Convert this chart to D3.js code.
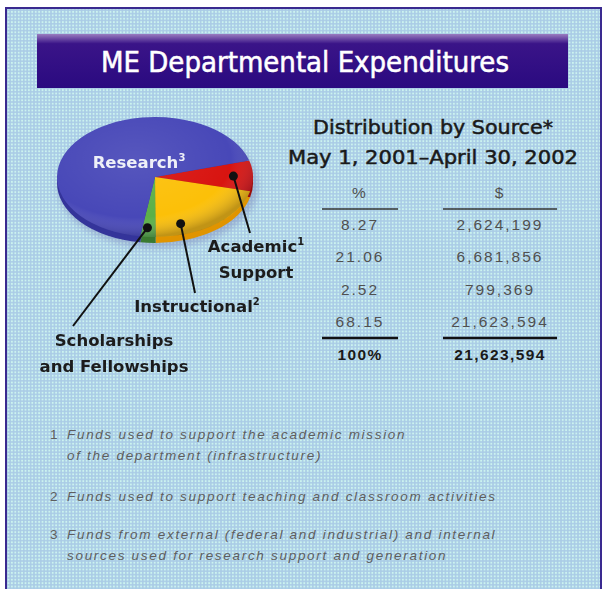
<!DOCTYPE html>
<html>
<head>
<meta charset="utf-8">
<script src="https://cdn.jsdelivr.net/npm/d3@7"></script>
<style>
  body { margin: 0; background: #ffffff; }
  svg { display: block; }
  .lbl { font-family: "DejaVu Sans", sans-serif; font-weight: bold; font-size: 16.5px; fill: #1c1c1c; }
  .num { font-family: "Liberation Sans", Arial, sans-serif; font-size: 15.5px; fill: #505050; letter-spacing: 2px; }
  .tot { font-family: "Liberation Sans", Arial, sans-serif; font-size: 15.5px; font-weight: bold; fill: #1a1a1a; letter-spacing: 1.4px; }
  .head { font-family: "DejaVu Sans Condensed", "DejaVu Sans", sans-serif; font-size: 19px; fill: #1a1a1a; stroke: #1a1a1a; stroke-width: 0.45px; }
  .note { font-family: "Liberation Sans", Arial, sans-serif; font-style: italic; font-size: 13.5px; fill: #5e5e5e; letter-spacing: 1.7px; }
</style>
</head>
<body>
<div id="chart"></div>
<script>

// data
var categories = ["Academic Support", "Instructional", "Scholarships and Fellowships", "Research"]
var percents = [8.27, 21.06, 2.52, 68.15]
var dollars = [2624199, 6681856, 799369, 21623594]
var totalPercent = "100%"
var totalDollars = 21623594
var columnHeads = ["%", "$"]
var footnotes = [
	["1", "Funds used to support the academic mission", "of the department (infrastructure)"],
	["2", "Funds used to support teaching and classroom activities"],
	["3", "Funds from external (federal and industrial) and internal", "sources used for research support and generation"]
]

var sliceColors = ["#d81410", "#fcc008", "#5cb048", "#4848b8"]
var rimColors = ["#9a0c08", "#e09400", "#3a7a30", "#34349a"]

var width = 603, height = 589

var svg = d3.select("#chart").append("svg")
	.attr("width", width)
	.attr("height", height)

var defs = svg.append("defs")

// dotted screen texture of the background
var pat = defs.append("pattern")
	.attr("id", "dots")
	.attr("width", 3.4)
	.attr("height", 3.4)
	.attr("patternUnits", "userSpaceOnUse")

pat.append("rect").attr("width", 3.4).attr("height", 3.4).attr("fill", "#aacce6")
pat.append("circle").attr("cx", 1.7).attr("cy", 1.7).attr("r", 1).attr("fill", "#ccf4f0")

var bannerGrad = defs.append("linearGradient")
	.attr("id", "banner")
	.attr("x1", 0).attr("y1", 0).attr("x2", 0).attr("y2", 1)

bannerGrad.append("stop").attr("offset", "0%").attr("stop-color", "#9a7cc0")
bannerGrad.append("stop").attr("offset", "18%").attr("stop-color", "#3a1488")
bannerGrad.append("stop").attr("offset", "100%").attr("stop-color", "#2a0a80")

// soft shading over the pie face
var shade = defs.append("radialGradient")
	.attr("id", "shade")
	.attr("cx", "40%").attr("cy", "35%").attr("r", "65%")

shade.append("stop").attr("offset", "0%").attr("stop-color", "#ffffff").attr("stop-opacity", 0.08)
shade.append("stop").attr("offset", "75%").attr("stop-color", "#ffffff").attr("stop-opacity", 0)
shade.append("stop").attr("offset", "100%").attr("stop-color", "#101040").attr("stop-opacity", 0.25)

defs.append("filter").attr("id", "soft")
	.append("feGaussianBlur").attr("stdDeviation", 0.4)

defs.append("filter").attr("id", "shadow")
	.attr("x", "-20%").attr("y", "-20%").attr("width", "140%").attr("height", "140%")
	.append("feGaussianBlur").attr("stdDeviation", 3)

// frame
svg.append("rect")
	.attr("x", 6)
	.attr("y", 8)
	.attr("width", 595)
	.attr("height", 600)
	.attr("fill", "url(#dots)")
	.attr("stroke", "#3a2a90")
	.attr("stroke-width", 2)

// title banner
svg.append("rect")
	.attr("x", 37)
	.attr("y", 34)
	.attr("width", 531)
	.attr("height", 54)
	.attr("fill", "url(#banner)")

svg.append("text")
	.attr("x", 305)
	.attr("y", 72)
	.attr("text-anchor", "middle")
	.attr("textLength", 408)
	.attr("lengthAdjust", "spacingAndGlyphs")
	.style("font-family", "'DejaVu Sans Condensed', 'DejaVu Sans', sans-serif")
	.style("font-size", "28px")
	.style("fill", "#ffffff")
	.style("stroke", "#ffffff")
	.style("stroke-width", 0.5)
	.text("ME Departmental Expenditures")

// pie
var cx = 155, cy = 177, rx = 98, ry = 60, depth = 6

var pie = d3.pie()
	.sort(null)
	.value(d => d)
	.startAngle(74 * Math.PI / 180)
	.endAngle(74 * Math.PI / 180 + 2 * Math.PI)

var slices = pie(percents)

var arc = d3.arc().innerRadius(0).outerRadius(1)

svg.append("ellipse")
	.attr("cx", cx + 3)
	.attr("cy", cy + depth + 3)
	.attr("rx", rx + 2)
	.attr("ry", ry + 2)
	.attr("fill", "#7a86b8")
	.attr("opacity", 0.45)
	.attr("filter", "url(#shadow)")

var rimG = svg.append("g")
	.attr("transform", `translate(${cx},${cy + depth}) scale(${rx},${ry})`)

rimG.selectAll("path")
	.data(slices)
	.enter()
	.append("path")
	.attr("d", arc)
	.attr("fill", (d, i) => rimColors[i])

var faceG = svg.append("g")
	.attr("transform", `translate(${cx},${cy}) scale(${rx},${ry})`)

faceG.selectAll("path")
	.data(slices)
	.enter()
	.append("path")
	.attr("d", arc)
	.attr("fill", (d, i) => sliceColors[i])

faceG.append("circle")
	.attr("r", 1)
	.attr("fill", "url(#shade)")

// point on the ellipse for slice i, t along its angle, r of radius
function onSlice(i, t, r) {
	var s = slices[i]
	var a = s.startAngle + (s.endAngle - s.startAngle) * t
	return [cx + Math.sin(a) * r * rx, cy - Math.cos(a) * r * ry]
}

// leader lines: slice index, position in slice, label end point
var leaders = [
	{ i: 0, t: 0.5, r: 0.8, end: [250, 233] },
	{ i: 1, t: 0.76, r: 0.82, end: [195, 293] },
	{ i: 2, t: 0.62, r: 0.85, end: [73, 326] }
]

leaders.forEach(function(d) {
	var p = onSlice(d.i, d.t, d.r)
	svg.append("line")
		.attr("x1", p[0]).attr("y1", p[1])
		.attr("x2", d.end[0]).attr("y2", d.end[1])
		.attr("stroke", "#111")
		.attr("stroke-width", 2)
	svg.append("circle")
		.attr("cx", p[0]).attr("cy", p[1])
		.attr("r", 4.5)
		.attr("fill", "#111")
})

function label(x, y, lines, sup, color) {
	var t = svg.append("text")
		.attr("class", "lbl")
		.attr("text-anchor", "middle")
		.attr("filter", "url(#soft)")
	if (color) t.style("fill", color)
	lines.forEach(function(line, k) {
		t.append("tspan")
			.attr("x", x)
			.attr("y", y + k * 26)
			.text(line)
		if (k === 0 && sup) {
			t.append("tspan")
				.attr("dy", -7)
				.style("font-size", "10px")
				.text(sup)
		}
	})
}

label(139, 168, ["Research"], "3", "#eef0f8")
label(256, 252, ["Academic", "Support"], "1")
label(197, 312, ["Instructional"], "2")
label(114, 346, ["Scholarships", "and Fellowships"])

// table heading
svg.append("text")
	.attr("class", "head")
	.attr("x", 433)
	.attr("y", 134)
	.attr("text-anchor", "middle")
	.attr("textLength", 240)
	.attr("lengthAdjust", "spacingAndGlyphs")
	.text("Distribution by Source*")

svg.append("text")
	.attr("class", "head")
	.attr("x", 433)
	.attr("y", 164)
	.attr("text-anchor", "middle")
	.attr("textLength", 290)
	.attr("lengthAdjust", "spacingAndGlyphs")
	.text("May 1, 2001\u2013April 30, 2002")

var colX = [360, 500]
var colW = [76, 114]

var y = d3.scalePoint()
	.domain(categories)
	.range([225, 322])

var fmt = d3.format(",")

columnHeads.forEach(function(h, c) {
	svg.append("text")
		.attr("class", "num")
		.attr("x", colX[c])
		.attr("y", 198)
		.attr("text-anchor", "middle")
		.text(h)
	svg.append("line")
		.attr("x1", colX[c] - colW[c] / 2).attr("x2", colX[c] + colW[c] / 2)
		.attr("y1", 209).attr("y2", 209)
		.attr("stroke", "#333")
		.attr("stroke-width", 1.5)
	svg.append("line")
		.attr("x1", colX[c] - colW[c] / 2).attr("x2", colX[c] + colW[c] / 2)
		.attr("y1", 338).attr("y2", 338)
		.attr("stroke", "#111")
		.attr("stroke-width", 2.5)
})

svg.selectAll(".pct")
	.data(categories)
	.enter()
	.append("text")
	.attr("class", "num pct")
	.attr("x", colX[0])
	.attr("y", d => y(d) + 5)
	.attr("text-anchor", "middle")
	.text((d, i) => percents[i].toFixed(2))

svg.selectAll(".dol")
	.data(categories)
	.enter()
	.append("text")
	.attr("class", "num dol")
	.attr("x", colX[1])
	.attr("y", d => y(d) + 5)
	.attr("text-anchor", "middle")
	.text((d, i) => fmt(dollars[i]))

svg.append("text")
	.attr("class", "tot")
	.attr("x", colX[0])
	.attr("y", 360)
	.attr("text-anchor", "middle")
	.text(totalPercent)

svg.append("text")
	.attr("class", "tot")
	.attr("x", colX[1])
	.attr("y", 360)
	.attr("text-anchor", "middle")
	.text(fmt(totalDollars))

// footnotes
var noteY = [439, 501, 539]

footnotes.forEach(function(f, k) {
	svg.append("text")
		.attr("class", "note")
		.attr("x", 50)
		.attr("y", noteY[k])
		.style("font-style", "normal")
		.text(f[0])
	f.slice(1).forEach(function(line, j) {
		svg.append("text")
			.attr("class", "note")
			.attr("x", 67)
			.attr("y", noteY[k] + j * 21)
			.text(line)
	})
})

</script>
</body>
</html>
